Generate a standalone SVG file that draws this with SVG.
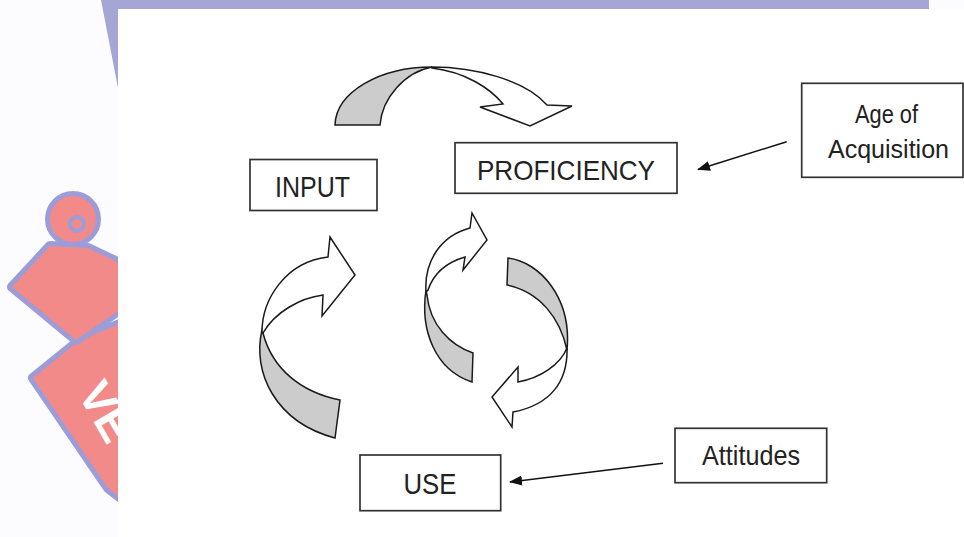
<svg xmlns="http://www.w3.org/2000/svg" width="964" height="537" viewBox="0 0 964 537">
<defs>
<marker id="ah" markerWidth="13" markerHeight="10" refX="12" refY="5" orient="auto" markerUnits="userSpaceOnUse">
<path d="M0,0 L13,5 L0,10 Z" fill="#111"/>
</marker>
<style>
.box{fill:#fff;stroke:#333;stroke-width:1.7}
.lbl{font-family:"Liberation Sans",Arial,sans-serif;fill:#222;text-anchor:middle}
.blk{stroke:#1a1a1a;stroke-width:1.5;stroke-linejoin:miter}
.g{fill:#cccccc}
.w{fill:#ffffff}
.ln{stroke:#111;stroke-width:1.5;fill:none}
.wmo{fill:#9c9cd8;stroke:#9c9cd8;stroke-width:10;stroke-linejoin:round}
.wmf{fill:#f28a8a}
</style>
</defs>
<g id="background">
<rect width="964" height="537" fill="#fcfcfe"/>
<g id="watermark">
<path class="wmo" d="M33,378 L80,340 L130,320 L130,505 L108,488 Z"/>
<path class="wmf" d="M33,378 L80,340 L130,320 L130,505 L108,488 Z"/>
<path class="wmo" d="M50,246 L12,287 L76,340 L130,303 L130,268 L88,248 Z"/>
<circle class="wmo" cx="73" cy="219" r="23"/>
<path class="wmf" d="M50,246 L12,287 L76,340 L130,303 L130,268 L88,248 Z"/>
<circle class="wmf" cx="73" cy="219" r="23"/>
<circle cx="77" cy="224" r="7" fill="#f28a8a" stroke="#9c9cd8" stroke-width="4"/>
<text transform="translate(77,393) rotate(60)" font-family="Liberation Sans,Arial,sans-serif" font-weight="bold" font-size="46" fill="#ffffff">VE</text>
</g>
<rect x="118" y="9" width="846" height="528" fill="#ffffff"/>
<path d="M101,0 H929 V9 H118 V88 Z" fill="#a6a6d6"/>
</g>
<g id="connectors">
<g id="arrow-input-proficiency" class="blk">
<path class="g" d="M335,125 C336,92 380,67 432,67 C405,72 382,98 380,125 Z"/>
<path class="w" d="M432,67 C475,67 525,80 547,105 L572,106 L530,126 L480,107 L503,104 C490,88 465,72 432,68 Z"/>
</g>
<g id="arrow-use-input" class="blk">
<path class="g" d="M262,330 C252,372 275,422 335,438 L340,400 C300,392 272,368 263,333 Z"/>
<path class="w" d="M262,332 C262,300 285,262 328,257 L330,237 L355,275 L322,316 L323,295 C300,298 275,312 263,333 Z"/>
</g>
<g id="arrow-use-proficiency" class="blk">
<path class="g" d="M426,290 C420,330 435,370 472,382 L473,353 C450,345 430,325 427,295 Z"/>
<path class="w" d="M426,292 C424,262 440,236 470,228 L472,213 L487,240 L463,270 L465,257 C448,262 434,272 428,290 Z"/>
</g>
<g id="arrow-proficiency-use" class="blk">
<path class="g" d="M508,258 C540,262 572,298 567,350 C560,318 540,292 507,285 Z"/>
<path class="w" d="M567,348 C568,382 550,405 513,412 L512,427 L492,397 L518,367 L518,382 C540,378 560,365 567,348 Z"/>
</g>
<line class="ln" x1="786.7" y1="141.7" x2="698" y2="169.5" marker-end="url(#ah)"/>
<line class="ln" x1="663" y1="463.3" x2="510" y2="482" marker-end="url(#ah)"/>
</g>
<g id="input">
<rect class="box" x="250" y="159.5" width="127" height="51"/>
<text class="lbl" x="312.5" y="197" font-size="29" textLength="75" lengthAdjust="spacingAndGlyphs">INPUT</text>
</g>
<g id="proficiency">
<rect class="box" x="455" y="142.7" width="222" height="50.6"/>
<text class="lbl" x="566" y="180" font-size="28" textLength="178" lengthAdjust="spacingAndGlyphs">PROFICIENCY</text>
</g>
<g id="age">
<rect class="box" x="801.7" y="83.3" width="161.3" height="94"/>
<text class="lbl" x="886.5" y="123.3" font-size="25" textLength="63" lengthAdjust="spacingAndGlyphs">Age of</text>
<text class="lbl" x="888.5" y="158.3" font-size="25" textLength="121" lengthAdjust="spacingAndGlyphs">Acquisition</text>
</g>
<g id="use">
<rect class="box" x="360" y="455" width="140.7" height="55.7"/>
<text class="lbl" x="430" y="494" font-size="29" textLength="53" lengthAdjust="spacingAndGlyphs">USE</text>
</g>
<g id="attitudes">
<rect class="box" x="675" y="428.3" width="151.7" height="54.4"/>
<text class="lbl" x="751" y="465" font-size="28" textLength="98" lengthAdjust="spacingAndGlyphs">Attitudes</text>
</g>
</svg>
